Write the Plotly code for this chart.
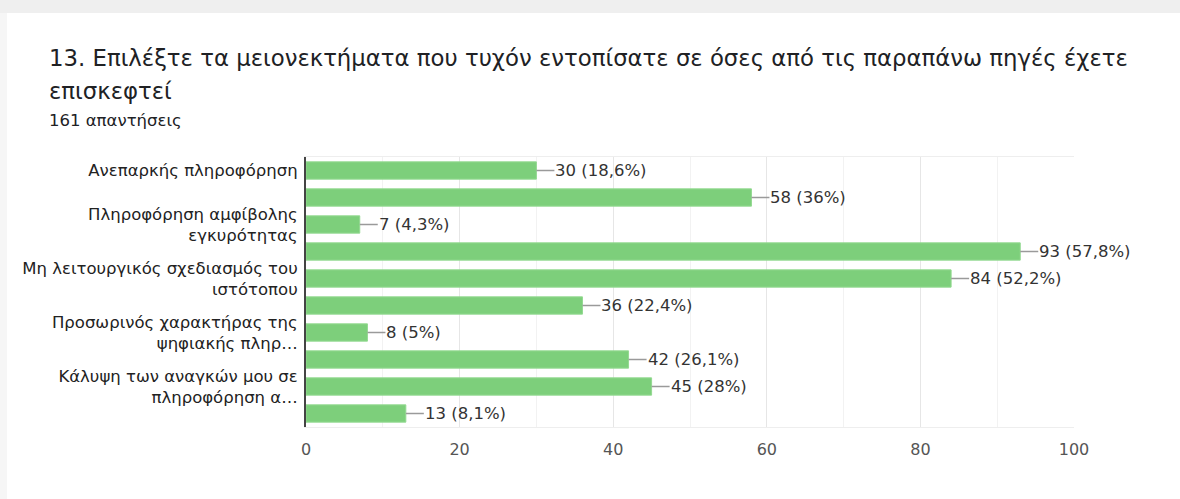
import plotly.graph_objects as go

values = [30, 58, 7, 93, 84, 36, 8, 42, 45, 13]
percents = ["18,6%", "36%", "4,3%", "57,8%", "52,2%", "22,4%", "5%", "26,1%", "28%", "8,1%"]
label_positions = [0, 2, 4, 6, 8]
labels = [
    "Ανεπαρκής πληροφόρηση",
    "Πληροφόρηση αμφίβολης<br>εγκυρότητας",
    "Μη λειτουργικός σχεδιασμός του<br>ιστότοπου",
    "Προσωρινός χαρακτήρας της<br>ψηφιακής πληρ…",
    "Κάλυψη των αναγκών μου σε<br>πληροφόρηση α…",
]
x_ticks = [0, 20, 40, 60, 80, 100]
title_line1 = "13. Επιλέξτε τα μειονεκτήματα που τυχόν εντοπίσατε σε όσες από τις παραπάνω πηγές έχετε"
title_line2 = "επισκεφτεί"
subtitle = "161 απαντήσεις"

W, H = 1180, 499
L, R, T, B = 306, 106, 157, 72
PW, PH = W - L - R, H - T - B


def px(p):
    return (p - L) / PW


def py(p):
    return (H - B - p) / PH


FONT = "DejaVu Sans"

fig = go.Figure()
fig.add_trace(go.Bar(
    x=values,
    y=list(range(len(values))),
    orientation="h",
    marker=dict(color="#7dcf7b", line=dict(color="#93d991", width=1)),
    hoverinfo="skip",
))

annotations = []
for i, (v, p) in enumerate(zip(values, percents)):
    annotations.append(dict(
        x=v, y=i, xref="x", yref="y",
        text=f"{v} ({p})",
        showarrow=True, arrowhead=0, arrowwidth=1.5, arrowcolor="#9a9a9a",
        ax=18, ay=0, xanchor="left", standoff=0, borderpad=0,
        font=dict(family=FONT, size=16.5, color="#333333"),
    ))

annotations += [
    dict(x=px(47), y=py(58), xref="paper", yref="paper", text=title_line1,
         showarrow=False, xanchor="left", yanchor="middle",
         font=dict(family=FONT, size=22.8, color="#202124")),
    dict(x=px(47), y=py(91), xref="paper", yref="paper", text=title_line2,
         showarrow=False, xanchor="left", yanchor="middle",
         font=dict(family=FONT, size=22.8, color="#202124")),
    dict(x=px(47), y=py(120), xref="paper", yref="paper", text=subtitle,
         showarrow=False, xanchor="left", yanchor="middle",
         font=dict(family=FONT, size=16.5, color="#202124")),
]

shapes = [
    dict(type="rect", xref="paper", yref="paper", x0=px(-5), x1=px(W + 5),
         y0=py(13), y1=py(-5), fillcolor="#efefef", line=dict(width=0), layer="below"),
    dict(type="rect", xref="paper", yref="paper", x0=px(-5), x1=px(7),
         y0=py(H + 5), y1=py(13), fillcolor="#f6f6f6", line=dict(width=0), layer="below"),
]

fig.update_layout(
    width=W, height=H,
    margin=dict(l=L, r=R, t=T, b=B, pad=0),
    paper_bgcolor="white", plot_bgcolor="white",
    showlegend=False,
    bargap=0.36,
    annotations=annotations,
    shapes=shapes,
    xaxis=dict(
        range=[0, 100], tickvals=x_ticks, ticks="",
        showgrid=True, gridcolor="#e6e6e6", gridwidth=1,
        minor=dict(dtick=10, showgrid=True, gridcolor="#f2f2f2", gridwidth=1),
        zeroline=False, showline=True, linecolor="#eeeeee", mirror=True,
        tickfont=dict(family=FONT, size=16, color="#555555"),
        ticklabelstandoff=8,
        fixedrange=True,
    ),
    yaxis=dict(
        range=[len(values) - 0.5, -0.5],
        tickvals=label_positions, ticktext=labels, ticks="",
        showgrid=False, zeroline=False,
        showline=True, linecolor="#444444", linewidth=2,
        tickfont=dict(family=FONT, size=16.5, color="#222222"),
        ticklabelstandoff=3,
        fixedrange=True,
    ),
)

fig.write_html(
    "out.html",
    config={"displayModeBar": False},
    post_script="document.body.style.margin='0';document.body.style.overflow='hidden';",
)
